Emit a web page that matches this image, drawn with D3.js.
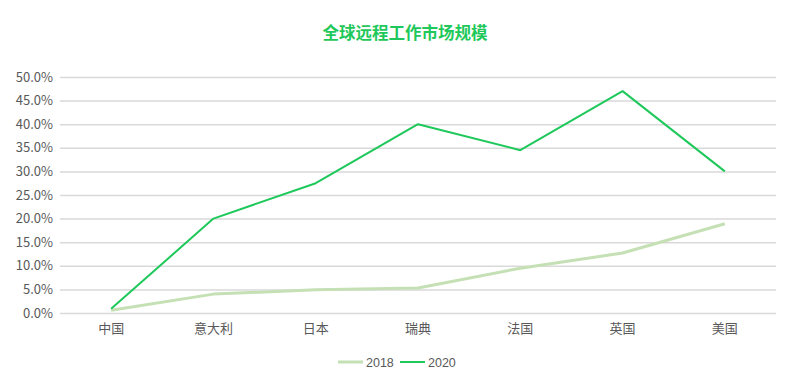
<!DOCTYPE html>
<html>
<head>
<meta charset="utf-8">
<script src="https://cdn.jsdelivr.net/npm/d3@7"></script>
<style>
  body { margin: 0; background: #fff; }
  text { font-family: "Noto Sans CJK SC", "Microsoft YaHei", sans-serif; }
</style>
</head>
<body>
<div id="chart"></div>
<script>
// data
var categories = ["中国", "意大利", "日本", "瑞典", "法国", "英国", "美国"];
var values2018 = [0.006, 0.04, 0.049, 0.053, 0.095, 0.127, 0.189];
var values2020 = [0.009, 0.20, 0.275, 0.40, 0.345, 0.47, 0.30];
var yTicks = [0, 0.05, 0.10, 0.15, 0.20, 0.25, 0.30, 0.35, 0.40, 0.45, 0.50];
var seriesNames = ["2018", "2020"];
var seriesColors = ["#c5e0b4", "#1ec85a"];

var width = 812, height = 389;
var margin = { top: 77, right: 36, bottom: 76, left: 60 };

var svg = d3.select("#chart")
  .append("svg")
  .attr("width", width)
  .attr("height", height);

// title
svg.append("text")
  .attr("x", 405)
  .attr("y", 39)
  .attr("text-anchor", "middle")
  .attr("fill", "#1ec85a")
  .attr("font-size", 16.5)
  .attr("font-weight", "bold")
  .text("全球远程工作市场规模");

var g = svg.append("g")
  .attr("transform", "translate(" + margin.left + "," + margin.top + ")");

var w = width - margin.left - margin.right;
var h = height - margin.top - margin.bottom;

var x = d3.scaleBand().domain(categories).range([0, w]);
var y = d3.scaleLinear().domain([0, 0.5]).range([h, 0]);

// grid / y axis
var yAxis = d3.axisLeft(y)
  .tickValues(yTicks)
  .tickSize(-w)
  .tickPadding(7)
  .tickFormat(d3.format(".1%"));

g.append("g")
  .call(yAxis)
  .call(function (a) {
    a.select(".domain").remove();
    a.selectAll(".tick line").attr("stroke", "#d9d9d9").attr("stroke-width", 1.5);
    a.selectAll(".tick text")
      .attr("fill", "#595959")
      .attr("font-size", 13)
      .style("font-family", "'Noto Sans CJK SC', sans-serif");
  });

// x axis
var xAxis = d3.axisBottom(x).tickSize(0).tickPadding(11);
g.append("g")
  .attr("transform", "translate(0," + h + ")")
  .call(xAxis)
  .call(function (a) {
    a.select(".domain").remove();
    a.selectAll(".tick text")
      .attr("fill", "#595959")
      .attr("font-size", 13)
      .style("font-family", "'Noto Sans CJK SC', sans-serif");
  });

// lines
var line = d3.line()
  .x(function (d, i) { return x(categories[i]) + x.bandwidth() / 2; })
  .y(function (d) { return y(d); });

[values2018, values2020].forEach(function (vals, k) {
  g.append("path")
    .attr("d", line(vals))
    .attr("fill", "none")
    .attr("stroke", seriesColors[k])
    .attr("stroke-width", k === 0 ? 3 : 2)
    .attr("stroke-linejoin", "round");
});

// legend
var legendX = [338, 400];
var legend = svg.append("g").attr("transform", "translate(0,362)");
seriesNames.forEach(function (name, k) {
  legend.append("line")
    .attr("x1", legendX[k]).attr("x2", legendX[k] + 25)
    .attr("y1", 0).attr("y2", 0)
    .attr("stroke", seriesColors[k])
    .attr("stroke-width", k === 0 ? 3 : 2);
  legend.append("text")
    .attr("x", legendX[k] + 28)
    .attr("y", 4.5)
    .attr("fill", "#595959")
    .attr("font-size", 12.5)
    .style("font-family", "Arial, 'Liberation Sans', sans-serif")
    .text(name);
});
</script>
</body>
</html>
